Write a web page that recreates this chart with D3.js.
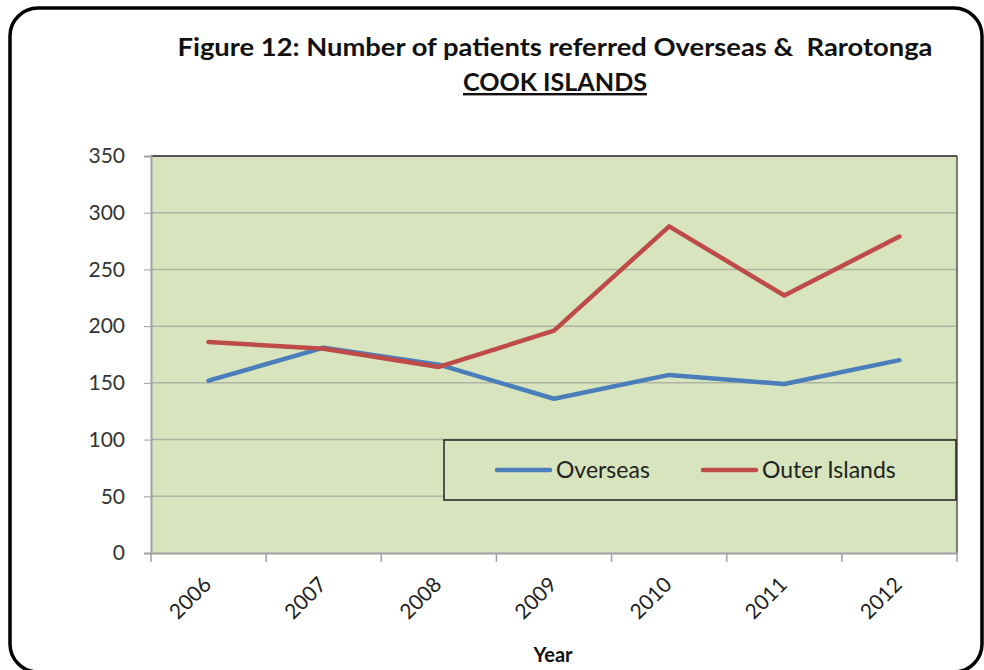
<!DOCTYPE html>
<html><head><meta charset="utf-8">
<script src="https://cdn.jsdelivr.net/npm/d3@7"></script>
<style>body{margin:0;background:#fff;}svg{display:block;}</style>
</head><body>
<svg id="c" width="984" height="670"></svg>
<script>
const years = ["2006","2007","2008","2009","2010","2011","2012"];
const overseas = [152, 181, 166, 136, 157, 149, 170];
const outerIslands = [186, 180, 164, 196, 288, 227, 279];
const yTicks = [0,50,100,150,200,250,300,350];
const seriesNames = ["Overseas","Outer Islands"];
const seriesColors = ["#4A7EBB","#BE4B48"];

const svg = d3.select("#c");
const font = "Lato, 'Open Sans', sans-serif";

// outer frame
svg.append("rect").attr("x",10).attr("y",8).attr("width",972).attr("height",664)
  .attr("rx",28).attr("ry",28).attr("fill","#fff").attr("stroke","#000").attr("stroke-width",3.5);

const L=151, R=957, T=156, B=553;
const x = d3.scaleBand().domain(years).range([L,R]);
const y = d3.scaleLinear().domain([0,350]).range([B,T]);

// plot background
svg.append("rect").attr("x",L).attr("y",T).attr("width",R-L).attr("height",B-T).attr("fill","#D7E4BD");

// gridlines
svg.append("g").selectAll("line").data(yTicks.filter(d=>d>0 && d<350)).join("line")
  .attr("x1",L).attr("x2",R).attr("y1",d=>y(d)).attr("y2",d=>y(d))
  .attr("stroke","#AEB3A4").attr("stroke-width",1.5);

// borders
svg.append("line").attr("x1",L).attr("x2",R).attr("y1",T).attr("y2",T).attr("stroke","#555").attr("stroke-width",2);
svg.append("line").attr("x1",R).attr("x2",R).attr("y1",T).attr("y2",B).attr("stroke","#555").attr("stroke-width",1.5);

// y axis
const yAxis = svg.append("g").attr("transform",`translate(${L},0)`)
  .call(d3.axisLeft(y).tickValues(yTicks).tickSize(7).tickPadding(19));
yAxis.select(".domain").attr("stroke","#A0A0A0").attr("stroke-width",2);
yAxis.selectAll(".tick line").attr("stroke","#A0A0A0");
yAxis.selectAll("text").attr("font-family",font).attr("font-size",21).attr("fill","#333");

// x axis
const xAxis = svg.append("g").attr("transform",`translate(0,${B})`)
  .call(d3.axisBottom(x).tickSize(0).tickFormat(""));
xAxis.select(".domain").attr("stroke","#A0A0A0").attr("stroke-width",2);
svg.append("g").selectAll("line").data(years.concat(["end"])).join("line")
  .attr("x1",(d,i)=>L+i*x.step()).attr("x2",(d,i)=>L+i*x.step())
  .attr("y1",B).attr("y2",B+9).attr("stroke","#A0A0A0").attr("stroke-width",1.5);
svg.append("g").selectAll("text").data(years).join("text")
  .attr("transform",d=>`translate(${x(d)+x.bandwidth()/2+4},${B+33}) rotate(-45)`)
  .attr("text-anchor","end").attr("font-family",font).attr("font-size",21).attr("fill","#222")
  .text(d=>d);

// lines
const line = d3.line().x((d,i)=>x(years[i])+x.bandwidth()/2).y(d=>y(d));
[overseas, outerIslands].forEach((s,k)=>{
  svg.append("path").datum(s).attr("d",line).attr("fill","none")
    .attr("stroke",seriesColors[k]).attr("stroke-width",4.5)
    .attr("stroke-linejoin","round").attr("stroke-linecap","round");
});

// legend
svg.append("rect").attr("x",444).attr("y",440).attr("width",512).attr("height",60)
  .attr("fill","#D7E4BD").attr("stroke","#222").attr("stroke-width",1.5);
const legX = [497, 703];
seriesNames.forEach((n,k)=>{
  svg.append("line").attr("x1",legX[k]).attr("x2",legX[k]+53).attr("y1",470).attr("y2",470)
    .attr("stroke",seriesColors[k]).attr("stroke-width",4.5).attr("stroke-linecap","round");
  svg.append("text").attr("x",legX[k]+59).attr("y",477.5).attr("font-family",font)
    .attr("font-size",23).attr("fill","#222").text(n);
});

// titles
svg.append("text").attr("x",555).attr("y",56).attr("text-anchor","middle")
  .attr("font-family",font).attr("font-weight","bold").attr("font-size",24)
  .attr("textLength",755).attr("lengthAdjust","spacingAndGlyphs").attr("fill","#111")
  .style("white-space","pre")
  .text("Figure 12: Number of patients referred Overseas &  Rarotonga");
svg.append("text").attr("x",555).attr("y",91).attr("text-anchor","middle")
  .attr("font-family",font).attr("font-weight","bold").attr("font-size",24)
  .attr("textLength",184).attr("lengthAdjust","spacingAndGlyphs").attr("fill","#111")
  .attr("text-decoration","underline")
  .text("COOK ISLANDS");
svg.append("text").attr("x",553).attr("y",662).attr("text-anchor","middle")
  .attr("font-family",font).attr("font-weight","bold").attr("font-size",20).attr("fill","#111")
  .text("Year");
</script>
</body></html>
